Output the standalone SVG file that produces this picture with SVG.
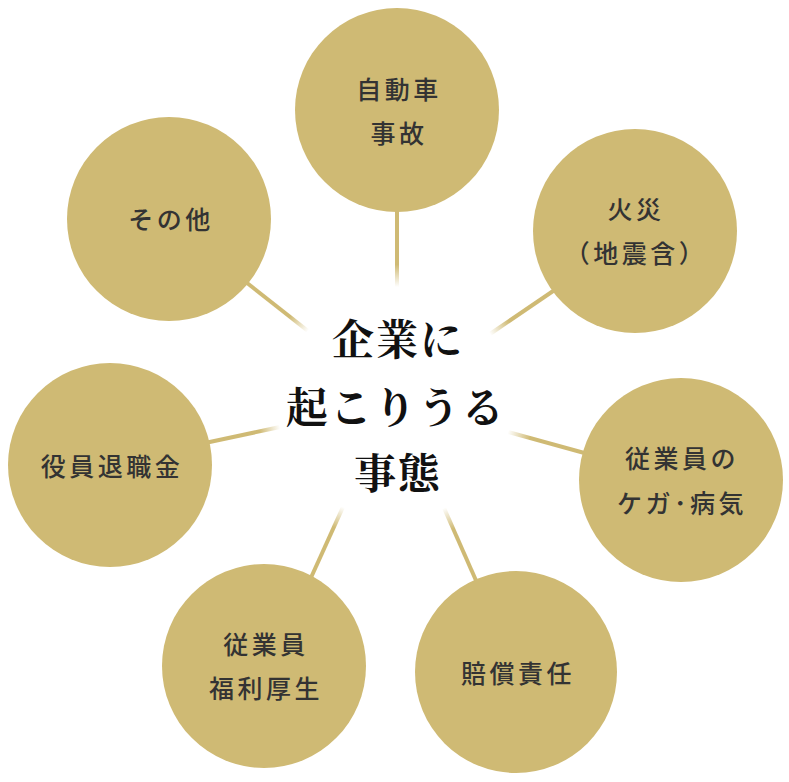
<svg xmlns="http://www.w3.org/2000/svg" width="789" height="782" viewBox="0 0 789 782">
<style>
.node circle{fill:#cfba74}
.node text{font-family:"Noto Sans CJK JP","Noto Sans",sans-serif;font-size:25px;font-weight:500;fill:#333;text-anchor:middle;dominant-baseline:central;letter-spacing:3.5px}
.conn line{stroke-width:4;fill:none}
.title text{font-family:"Noto Serif CJK JP","Noto Sans CJK JP",serif;font-size:42px;font-weight:700;fill:#111;text-anchor:middle;dominant-baseline:central;letter-spacing:2px}
</style>
<defs>
<linearGradient id="g1" gradientUnits="userSpaceOnUse" x1="397" y1="212" x2="397" y2="287"><stop offset="0" stop-color="#cfba74"/><stop offset="0.7" stop-color="#cfba74"/><stop offset="1" stop-color="#cfba74" stop-opacity="0"/></linearGradient>
<linearGradient id="g2" gradientUnits="userSpaceOnUse" x1="553" y1="291" x2="490" y2="334"><stop offset="0" stop-color="#cfba74"/><stop offset="0.7" stop-color="#cfba74"/><stop offset="1" stop-color="#cfba74" stop-opacity="0"/></linearGradient>
<linearGradient id="g3" gradientUnits="userSpaceOnUse" x1="582" y1="452" x2="508" y2="432"><stop offset="0" stop-color="#cfba74"/><stop offset="0.7" stop-color="#cfba74"/><stop offset="1" stop-color="#cfba74" stop-opacity="0"/></linearGradient>
<linearGradient id="g4" gradientUnits="userSpaceOnUse" x1="475" y1="578" x2="444" y2="508"><stop offset="0" stop-color="#cfba74"/><stop offset="0.7" stop-color="#cfba74"/><stop offset="1" stop-color="#cfba74" stop-opacity="0"/></linearGradient>
<linearGradient id="g5" gradientUnits="userSpaceOnUse" x1="312" y1="575" x2="343" y2="507"><stop offset="0" stop-color="#cfba74"/><stop offset="0.7" stop-color="#cfba74"/><stop offset="1" stop-color="#cfba74" stop-opacity="0"/></linearGradient>
<linearGradient id="g6" gradientUnits="userSpaceOnUse" x1="211" y1="442" x2="280" y2="427"><stop offset="0" stop-color="#cfba74"/><stop offset="0.7" stop-color="#cfba74"/><stop offset="1" stop-color="#cfba74" stop-opacity="0"/></linearGradient>
<linearGradient id="g7" gradientUnits="userSpaceOnUse" x1="247" y1="283" x2="308" y2="331"><stop offset="0" stop-color="#cfba74"/><stop offset="0.7" stop-color="#cfba74"/><stop offset="1" stop-color="#cfba74" stop-opacity="0"/></linearGradient>
</defs>
<rect width="789" height="782" fill="#fff"/>
<g id="connectors" class="conn">
<line x1="397" y1="205" x2="397" y2="287" stroke="url(#g1)"/>
<line x1="559" y1="287" x2="490" y2="334" stroke="url(#g2)"/>
<line x1="588" y1="454" x2="508" y2="432" stroke="url(#g3)"/>
<line x1="478" y1="585" x2="444" y2="508" stroke="url(#g4)"/>
<line x1="309" y1="582" x2="343" y2="507" stroke="url(#g5)"/>
<line x1="205" y1="443" x2="280" y2="427" stroke="url(#g6)"/>
<line x1="242" y1="279" x2="308" y2="331" stroke="url(#g7)"/>
</g>
<g id="node-jidousha" class="node">
<circle cx="397" cy="110" r="102"/>
<text x="399" y="88">自動車</text>
<text x="399" y="132">事故</text>
</g>
<g id="node-kasai" class="node">
<circle cx="635" cy="231" r="102"/>
<text x="636" y="208">火災</text>
<text x="636" y="252">（地震含）</text>
</g>
<g id="node-kega" class="node">
<circle cx="681" cy="480" r="102"/>
<text x="682" y="457">従業員の</text>
<text x="682" y="502">ケガ･病気</text>
</g>
<g id="node-baishou" class="node">
<circle cx="516" cy="672" r="101"/>
<text x="518" y="672">賠償責任</text>
</g>
<g id="node-fukuri" class="node">
<circle cx="264" cy="666" r="102"/>
<text x="266" y="643">従業員</text>
<text x="266" y="687">福利厚生</text>
</g>
<g id="node-yakuin" class="node">
<circle cx="110" cy="465" r="102"/>
<text x="112" y="465">役員退職金</text>
</g>
<g id="node-sonota" class="node">
<circle cx="169" cy="219" r="102"/>
<text x="171" y="218">その他</text>
</g>
<g id="center" class="title">
<text x="398" y="337">企業に</text>
<text x="396" y="405">起こりうる</text>
<text x="398" y="471">事態</text>
</g>
</svg>
